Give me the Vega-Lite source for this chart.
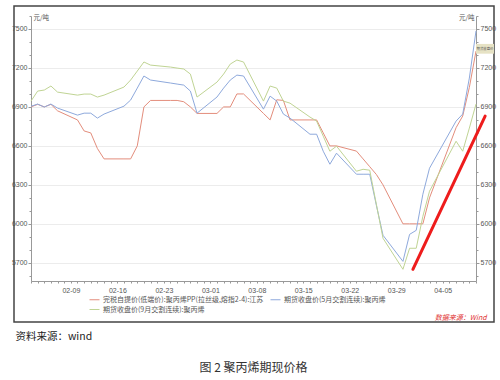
{
  "$schema": "https://vega.github.io/schema/vega-lite/v6.json",
  "padding": {"left": 10, "top": 5, "right": 10, "bottom": 5},
  "background": "white",
  "config": {
    "view": {"stroke": "#444", "strokeWidth": 1.5},
    "font": "Noto Sans CJK SC"
  },
  "datasets": {
    "pp": [
      {"date": "2020/02/03", "spot": 6900, "m05": 6905, "m09": 6945},
      {"date": "2020/02/04", "spot": 6920, "m05": 6922, "m09": 7022},
      {"date": "2020/02/05", "spot": 6900, "m05": 6899, "m09": 7030},
      {"date": "2020/02/06", "spot": 6920, "m05": 6922, "m09": 7061},
      {"date": "2020/02/07", "spot": 6870, "m05": 6891, "m09": 7014},
      {"date": "2020/02/10", "spot": 6800, "m05": 6837, "m09": 6991},
      {"date": "2020/02/11", "spot": 6715, "m05": 6852, "m09": 6999},
      {"date": "2020/02/12", "spot": 6700, "m05": 6852, "m09": 6999},
      {"date": "2020/02/13", "spot": 6580, "m05": 6814, "m09": 6976},
      {"date": "2020/02/14", "spot": 6500, "m05": 6845, "m09": 6991},
      {"date": "2020/02/17", "spot": 6500, "m05": 6906, "m09": 7053},
      {"date": "2020/02/18", "spot": 6500, "m05": 6953, "m09": 7107},
      {"date": "2020/02/19", "spot": 6600, "m05": 7045, "m09": 7176},
      {"date": "2020/02/20", "spot": 6900, "m05": 7138, "m09": 7246},
      {"date": "2020/02/21", "spot": 6950, "m05": 7107, "m09": 7222},
      {"date": "2020/02/24", "spot": 6950, "m05": 7084, "m09": 7207},
      {"date": "2020/02/25", "spot": 6950, "m05": 7076, "m09": 7199},
      {"date": "2020/02/26", "spot": 6940, "m05": 7068, "m09": 7192},
      {"date": "2020/02/27", "spot": 6900, "m05": 7022, "m09": 7153},
      {"date": "2020/02/28", "spot": 6850, "m05": 6852, "m09": 6976},
      {"date": "2020/03/02", "spot": 6850, "m05": 6976, "m09": 7091},
      {"date": "2020/03/03", "spot": 6900, "m05": 7045, "m09": 7153},
      {"date": "2020/03/04", "spot": 6900, "m05": 7107, "m09": 7230},
      {"date": "2020/03/05", "spot": 7000, "m05": 7145, "m09": 7261},
      {"date": "2020/03/06", "spot": 7000, "m05": 7138, "m09": 7246},
      {"date": "2020/03/09", "spot": 6850, "m05": 6883, "m09": 6945},
      {"date": "2020/03/10", "spot": 6800, "m05": 6983, "m09": 7061},
      {"date": "2020/03/11", "spot": 6955, "m05": 6945, "m09": 7045},
      {"date": "2020/03/12", "spot": 6950, "m05": 6845, "m09": 6945},
      {"date": "2020/03/13", "spot": 6800, "m05": 6814, "m09": 6929},
      {"date": "2020/03/16", "spot": 6800, "m05": 6690, "m09": 6822},
      {"date": "2020/03/17", "spot": 6800, "m05": 6690, "m09": 6791},
      {"date": "2020/03/18", "spot": 6700, "m05": 6559, "m09": 6675},
      {"date": "2020/03/19", "spot": 6600, "m05": 6459, "m09": 6559},
      {"date": "2020/03/20", "spot": 6600, "m05": 6544, "m09": 6598},
      {"date": "2020/03/23", "spot": 6560, "m05": 6382, "m09": 6405},
      {"date": "2020/03/24", "spot": 6500, "m05": 6382, "m09": 6420},
      {"date": "2020/03/25", "spot": 6440, "m05": 6382, "m09": 6413},
      {"date": "2020/03/26", "spot": 6380, "m05": 6143, "m09": 6150},
      {"date": "2020/03/27", "spot": 6300, "m05": 5912, "m09": 5889},
      {"date": "2020/03/30", "spot": 6000, "m05": 5711, "m09": 5650},
      {"date": "2020/03/31", "spot": 6000, "m05": 5919, "m09": 5812},
      {"date": "2020/04/01", "spot": 6000, "m05": 5950, "m09": 5812},
      {"date": "2020/04/02", "spot": 6000, "m05": 6228, "m09": 6058},
      {"date": "2020/04/03", "spot": 6200, "m05": 6428, "m09": 6251},
      {"date": "2020/04/07", "spot": 6740, "m05": 6791, "m09": 6636},
      {"date": "2020/04/08", "spot": 6830, "m05": 6845, "m09": 6559},
      {"date": "2020/04/09", "spot": 7050, "m05": 7122, "m09": 6737},
      {"date": "2020/04/10", "spot": 7330, "m05": 7485, "m09": 6922}
    ],
    "one": [{}]
  },
  "title": {"text": "图 2  聚丙烯期现价格", "orient": "bottom", "anchor": "middle", "offset": 20, "fontSize": 12, "fontWeight": "normal", "color": "#333", "font": "Noto Sans CJK SC"},
  "vconcat": [
    {
      "width": 480,
      "height": 316,
      "title": {"text": "资料来源：wind", "orient": "bottom", "anchor": "start", "offset": 10, "dx": 4, "fontSize": 10.5, "fontWeight": "normal", "color": "#222", "font": "Noto Sans CJK SC"},
      "resolve": {"axis": {"y": "independent"}},
      "layer": [
        {
          "data": {"name": "pp"},
          "transform": [{"fold": ["spot", "m05", "m09"], "as": ["series", "price"]}],
          "mark": {"type": "line", "strokeWidth": 1},
          "encoding": {
            "x": {
              "field": "date", "type": "temporal",
              "scale": {"domain": [{"year": 2020, "month": 2, "date": 3}, {"year": 2020, "month": 4, "date": 10}], "range": [17, 462]},
              "axis": {
                "orient": "bottom", "offset": -41,
                "tickCount": {"interval": "day", "step": 1},
                "labelExpr": "timeFormat(datum.value, '%w') == '0' ? timeFormat(datum.value, '%m-%d') : ''",
                "labelOverlap": false, "labelFlush": false,
                "tickSize": 2,
                "domainColor": "#999", "tickColor": "#999",
                "labelFontSize": 7, "labelColor": "#555", "labelPadding": 3, "labelFont": "Liberation Sans",
                "grid": false,
                "title": "数据来源：Wind", "titleColor": "#e03030", "titleFontSize": 7, "titleFontStyle": "italic", "titleFontWeight": "normal",
                "titleX": 472, "titleY": 36, "titleAlign": "right", "titleBaseline": "middle"
              }
            },
            "y": {
              "field": "price", "type": "quantitative",
              "scale": {"domain": [5560, 7600], "range": [275, 10], "nice": false, "zero": false},
              "axis": {
                "orient": "left", "offset": -17,
                "values": [5600, 5700, 5800, 5900, 6000, 6100, 6200, 6300, 6400, 6500, 6600, 6700, 6800, 6900, 7000, 7100, 7200, 7300, 7400, 7500, 7600],
                "format": "d",
                "labelExpr": "datum.value % 300 == 0 ? datum.label : ''",
                "tickSize": {"condition": {"test": "datum.value % 300 == 0", "value": 3}, "value": 2},
                "grid": true, "gridColor": "#ececec",
                "gridOpacity": {"condition": {"test": "datum.value % 300 == 0", "value": 1}, "value": 0},
                "domainColor": "#999", "tickColor": "#999",
                "labelFontSize": 7, "labelColor": "#555", "labelPadding": 1, "labelFont": "Liberation Sans",
                "title": "元/吨", "titleAngle": 0, "titleAlign": "left", "titleBaseline": "middle",
                "titleX": 2, "titleY": 11, "titleFontSize": 6.5, "titleFontWeight": "normal", "titleColor": "#555"
              }
            },
            "color": {
              "field": "series", "type": "nominal",
              "scale": {"domain": ["spot", "m05", "m09"], "range": ["#e38d7c", "#8ea9dc", "#c0d494"]},
              "legend": {
                "orient": "none", "legendX": 75, "legendY": 288, "columns": 2, "direction": "horizontal",
                "symbolType": "stroke", "symbolSize": 100, "symbolStrokeWidth": 1,
                "labelFontSize": 7, "labelColor": "#555", "labelOffset": 3, "labelLimit": 400,
                "columnPadding": 4, "rowPadding": 1, "title": null,
                "labelExpr": "datum.value == 'spot' ? '完税自提价(低端价):聚丙烯PP(拉丝级,熔指2-4):江苏' : datum.value == 'm05' ? '期货收盘价(5月交割连续):聚丙烯' : '期货收盘价(9月交割连续):聚丙烯'"
              }
            }
          }
        },
        {
          "data": {"name": "pp"},
          "transform": [{"fold": ["spot", "m05", "m09"], "as": ["series", "price"]}],
          "mark": {"type": "point", "opacity": 0},
          "encoding": {
            "x": {"field": "date", "type": "temporal"},
            "y": {
              "field": "price", "type": "quantitative",
              "axis": {
                "orient": "right", "offset": -18,
                "values": [5600, 5700, 5800, 5900, 6000, 6100, 6200, 6300, 6400, 6500, 6600, 6700, 6800, 6900, 7000, 7100, 7200, 7300, 7400, 7500, 7600],
                "format": "d",
                "labelExpr": "datum.value % 300 == 0 ? datum.label : ''",
                "tickSize": {"condition": {"test": "datum.value % 300 == 0", "value": 3}, "value": 2},
                "grid": false,
                "domainColor": "#999", "tickColor": "#999",
                "labelFontSize": 7, "labelColor": "#555", "labelPadding": 1, "labelFont": "Liberation Sans",
                "title": "元/吨", "titleAngle": 0, "titleAlign": "right", "titleBaseline": "middle",
                "titleX": -2, "titleY": 11, "titleFontSize": 6.5, "titleFontWeight": "normal", "titleColor": "#555"
              }
            }
          }
        },
        {
          "data": {"name": "one"},
          "mark": {"type": "rule", "color": "#ee1c1c", "strokeWidth": 3, "strokeCap": "round"},
          "encoding": {
            "x": {"datum": {"year": 2020, "month": 3, "date": 31, "hours": 12}, "type": "temporal"},
            "x2": {"datum": {"year": 2020, "month": 4, "date": 11, "hours": 9}},
            "y": {"datum": 5650, "type": "quantitative", "axis": null},
            "y2": {"datum": 6829}
          }
        },
        {
          "data": {"name": "one"},
          "mark": {"type": "rect", "color": "#e6e2c4", "clip": true},
          "encoding": {
            "x": {"datum": {"year": 2020, "month": 4, "date": 10}, "type": "temporal"},
            "x2": {"datum": {"year": 2020, "month": 4, "date": 12, "hours": 17}},
            "y": {"datum": 7385, "type": "quantitative", "axis": null},
            "y2": {"datum": 7310}
          }
        },
        {
          "data": {"name": "one"},
          "mark": {"type": "text", "text": "期货收盘价", "fontSize": 3.4, "color": "#555", "align": "left", "dx": 0.5},
          "encoding": {
            "x": {"datum": {"year": 2020, "month": 4, "date": 10}, "type": "temporal"},
            "y": {"datum": 7347, "type": "quantitative", "axis": null}
          }
        }
      ]
    }
  ]
}
